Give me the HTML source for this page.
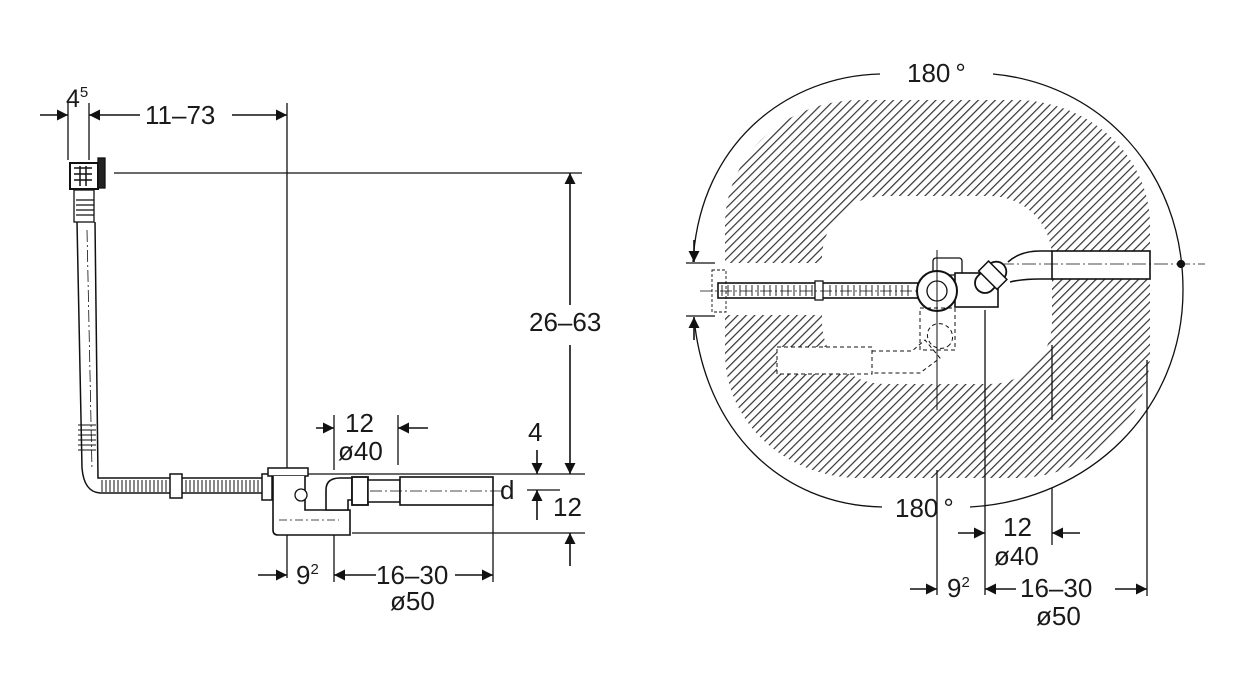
<!DOCTYPE html>
<html><head><meta charset="utf-8"><style>
html,body{margin:0;padding:0;background:#fff;}
svg{display:block;}
text{font-family:"Liberation Sans",sans-serif;fill:#1a1a1a;}
</style></head><body>
<svg width="1246" height="694" viewBox="0 0 1246 694" xmlns="http://www.w3.org/2000/svg">
<defs>
<pattern id="h" patternUnits="userSpaceOnUse" width="6" height="6" patternTransform="rotate(45)">
<rect x="0" y="0" width="1.2" height="6" fill="#333"/>
</pattern>
<marker id="a" viewBox="0 0 10 10" refX="10" refY="5" markerWidth="12" markerHeight="11" markerUnits="userSpaceOnUse" orient="auto"><path d="M0,0 L10,5 L0,10 z" fill="#111"/></marker>
</defs>
<g stroke="#111" stroke-width="1.3" fill="none">
<line x1="68" y1="103" x2="68" y2="160"/>
<line x1="89" y1="103" x2="89" y2="160"/>
<line x1="40" y1="115" x2="68" y2="115" marker-end="url(#a)" stroke-width="1.6"/>
<line x1="140" y1="115" x2="89" y2="115" marker-end="url(#a)" stroke-width="1.6"/>
<line x1="232" y1="115" x2="287" y2="115" marker-end="url(#a)" stroke-width="1.6"/>
<line x1="287" y1="103" x2="287" y2="578"/>
<line x1="114" y1="173" x2="582" y2="173"/>
<line x1="570" y1="305" x2="570" y2="173" marker-end="url(#a)" stroke-width="1.6"/>
<line x1="570" y1="345" x2="570" y2="474" marker-end="url(#a)" stroke-width="1.6"/>
<line x1="305" y1="474" x2="585" y2="474"/>
<line x1="537" y1="450" x2="537" y2="474" marker-end="url(#a)" stroke-width="1.6"/>
<line x1="537" y1="520" x2="537" y2="490" marker-end="url(#a)" stroke-width="1.6"/>
<line x1="527" y1="490" x2="560" y2="490"/>
<line x1="352" y1="533" x2="585" y2="533"/>
<line x1="570" y1="566" x2="570" y2="533" marker-end="url(#a)" stroke-width="1.6"/>
<line x1="334" y1="415" x2="334" y2="470"/>
<line x1="398" y1="415" x2="398" y2="465"/>
<line x1="316" y1="428" x2="334" y2="428" marker-end="url(#a)" stroke-width="1.6"/>
<line x1="428" y1="428" x2="398" y2="428" marker-end="url(#a)" stroke-width="1.6"/>
<line x1="334" y1="505" x2="334" y2="582"/>
<line x1="493" y1="505" x2="493" y2="582"/>
<line x1="258" y1="575" x2="287" y2="575" marker-end="url(#a)" stroke-width="1.6"/>
<line x1="376" y1="575" x2="334" y2="575" marker-end="url(#a)" stroke-width="1.6"/>
<line x1="455" y1="575" x2="493" y2="575" marker-end="url(#a)" stroke-width="1.6"/>
<rect x="70" y="163" width="28" height="26" fill="#fff" stroke-width="2"/>
<path d="M74,168 h18 M74,174 h18 M74,180 h18 M80,166 v20 M86,166 v20" stroke-width="1.5"/>
<rect x="98" y="158" width="7" height="30" fill="#222"/>
<rect x="74" y="190" width="20" height="32" fill="#fff"/>
<path d="M76,200 h18 M76,205 h18 M76,210 h18 M76,215 h18"/>
<path d="M77,222 L82,468 Q84,492 100,493 L265,493 M95,222 L98,478 L265,478" stroke-width="1.5"/>
<path d="M78,425 h18 M78,430 h18 M78,435 h18 M78,440 h18 M78,445 h18 M78,450 h18" stroke-width="1"/>
<path d="M87,230 L92,470" stroke-dasharray="12,3,2,3" stroke-width="0.8"/>
<path d="M102,480 v12 M106,480 v12 M110,480 v12 M114,480 v12 M118,480 v12 M122,480 v12 M126,480 v12 M130,480 v12 M134,480 v12 M138,480 v12 M142,480 v12 M146,480 v12 M150,480 v12 M154,480 v12 M158,480 v12 M162,480 v12 M166,480 v12 M186,480 v12 M190,480 v12 M194,480 v12 M198,480 v12 M202,480 v12 M206,480 v12 M210,480 v12 M214,480 v12 M218,480 v12 M222,480 v12 M226,480 v12 M230,480 v12 M234,480 v12 M238,480 v12 M242,480 v12 M246,480 v12 M250,480 v12 M254,480 v12 M258,480 v12" stroke-width="1"/>
<rect x="170" y="474" width="12" height="24" fill="#fff" stroke-width="1.5"/>
<rect x="262" y="474" width="10" height="26" fill="#fff" stroke-width="1.5"/>
<rect x="268" y="468" width="40" height="8" fill="#fff" stroke-width="1.5"/>
<path d="M273,476 L273,530 Q273,535 278,535 L350,535 L350,510 L305,510 L305,476" fill="#fff" stroke-width="1.6"/>
<circle cx="301" cy="495" r="6" fill="#fff"/>
<path d="M279,520 h60" stroke-dasharray="8,3,2,3" stroke-width="0.8"/>
<path d="M326,510 L326,490 Q326,478 340,478 L352,478 L352,500 L348,500 L348,510 Z" fill="#fff" stroke-width="1.6"/>
<rect x="352" y="477" width="16" height="28" fill="#fff" stroke-width="1.8"/>
<rect x="368" y="480" width="32" height="22" fill="#fff" stroke-width="1.5"/>
<rect x="400" y="477" width="93" height="28" fill="#fff" stroke-width="1.6"/>
<line x1="370" y1="491" x2="505" y2="491" stroke-dasharray="12,3,2,3" stroke-width="0.8"/>
<rect x="725" y="100" width="425" height="378" rx="135" ry="125" fill="url(#h)" stroke="none"/>
<rect x="822" y="196" width="230" height="188" rx="62" ry="62" fill="#fff" stroke="none"/>
<rect x="715" y="263" width="140" height="52" fill="#fff" stroke="none"/>
<rect x="1052" y="251" width="98" height="28" fill="#fff" stroke-width="1.6"/>
<path d="M1008,262 Q1020,251 1040,251 L1052,251 M1010,282 Q1022,279 1040,279 L1052,279" stroke-width="1.6"/>
<line x1="1000" y1="264" x2="1205" y2="264" stroke-dasharray="14,3,2,3" stroke-width="0.8"/>
<circle cx="1181" cy="264" r="3.5" fill="#111"/>
<path d="M880,74 C790,76 700,140 693,262" stroke-width="1.3"/>
<path d="M993,74 C1100,84 1183,170 1183,290 C1183,410 1090,500 970,507"/>
<path d="M882,507 C780,505 705,430 694,318"/>
<line x1="686" y1="263" x2="715" y2="263"/>
<line x1="686" y1="316" x2="715" y2="316"/>
<line x1="694" y1="240" x2="694" y2="262" marker-end="url(#a)" stroke-width="1.6"/>
<line x1="694" y1="340" x2="694" y2="317" marker-end="url(#a)" stroke-width="1.6"/>
<rect x="718" y="283" width="200" height="15" fill="#fff" stroke-width="1.6"/>
<path d="M722,285 v11 M728,285 v11 M734,285 v11 M740,285 v11 M746,285 v11 M752,285 v11 M758,285 v11 M764,285 v11 M770,285 v11 M776,285 v11 M782,285 v11 M788,285 v11 M794,285 v11 M800,285 v11 M806,285 v11 M812,285 v11 M830,285 v11 M836,285 v11 M842,285 v11 M848,285 v11 M854,285 v11 M860,285 v11 M866,285 v11 M872,285 v11 M878,285 v11 M884,285 v11 M890,285 v11 M896,285 v11 M902,285 v11 M908,285 v11" stroke-width="0.9"/>
<rect x="815" y="281" width="8" height="19" fill="#fff"/>
<rect x="712" y="270" width="14" height="42" stroke-dasharray="3,2" stroke-width="0.9"/>
<line x1="700" y1="291" x2="1000" y2="291" stroke-dasharray="12,3,2,3" stroke-width="0.8"/>
<rect x="933" y="258" width="29" height="17" rx="3" fill="#fff"/>
<rect x="955" y="273" width="43" height="34" fill="#fff" stroke-width="1.6"/>
<circle cx="937" cy="291" r="20" fill="#fff" stroke-width="2"/>
<circle cx="937" cy="291" r="10"/>
<g transform="translate(985,283) rotate(-45)">
<rect x="-10" y="-10" width="36" height="20" rx="10" fill="#fff" stroke-width="1.8"/>
<rect x="4" y="-13" width="14" height="26" fill="#fff" stroke-width="1.5"/>
</g>
<g stroke-dasharray="4,3" stroke-width="1">
<rect x="920" y="308" width="35" height="42"/>
<ellipse cx="940" cy="336" rx="13" ry="12" transform="rotate(40 940 336)" fill="#fff"/>
<rect x="777" y="347" width="95" height="27" fill="#fff"/>
<path d="M872,351 L912,351 L925,340 L940,358 L920,373 L872,373"/>
</g>
<line x1="937" y1="250" x2="937" y2="410" stroke-width="1"/>
<line x1="937" y1="470" x2="937" y2="595"/>
<line x1="985" y1="310" x2="985" y2="595"/>
<line x1="1052" y1="345" x2="1052" y2="420"/>
<line x1="1052" y1="488" x2="1052" y2="545"/>
<line x1="1147" y1="360" x2="1147" y2="596"/>
<line x1="958" y1="533" x2="985" y2="533" marker-end="url(#a)" stroke-width="1.6"/>
<line x1="1080" y1="533" x2="1052" y2="533" marker-end="url(#a)" stroke-width="1.6"/>
<line x1="910" y1="589" x2="937" y2="589" marker-end="url(#a)" stroke-width="1.6"/>
<line x1="1016" y1="589" x2="985" y2="589" marker-end="url(#a)" stroke-width="1.6"/>
<line x1="1115" y1="589" x2="1147" y2="589" marker-end="url(#a)" stroke-width="1.6"/>
</g>
<g font-size="26">
<text x="66" y="107" font-size="25">4<tspan font-size="15" dy="-10">5</tspan></text>
<text x="145" y="124">11–73</text>
<text x="529" y="331">26–63</text>
<text x="528" y="441">4</text>
<text x="500" y="499">d</text>
<text x="553" y="516">12</text>
<text x="345" y="432">12</text>
<text x="338" y="460">ø40</text>
<text x="296" y="584">9<tspan font-size="15" dy="-10">2</tspan></text>
<text x="376" y="584">16–30</text>
<text x="390" y="610">ø50</text>
<text x="907" y="82">180<tspan dx="5">°</tspan></text>
<text x="895" y="517">180<tspan dx="5">°</tspan></text>
<text x="1003" y="536">12</text>
<text x="994" y="565">ø40</text>
<text x="947" y="597">9<tspan font-size="15" dy="-10">2</tspan></text>
<text x="1020" y="597">16–30</text>
<text x="1036" y="625">ø50</text>
</g>
</svg>
</body></html>
